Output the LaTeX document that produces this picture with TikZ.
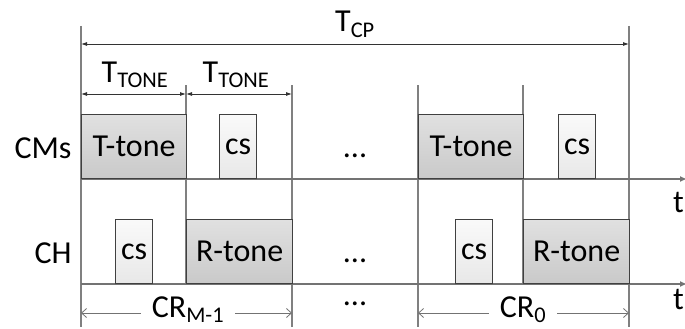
\documentclass[tikz,border=0pt]{standalone}
\usepackage{fontspec}
\setmainfont{Carlito}
\usetikzlibrary{arrows.meta, positioning}

\begin{document}
\begin{tikzpicture}[x=1pt, y=-1pt,
        every node/.style={font=\fontsize{32}{36}\selectfont, inner sep=0pt},
        tone/.style={rectangle, draw=black!75, line width=1.2pt,
                     top color=black!12, bottom color=black!21,
                     minimum width=105pt, minimum height=64pt, anchor=south west},
        csbox/.style={tone, top color=black!2, bottom color=black!9, minimum width=37pt},
        vline/.style={draw=black!50, line width=1.5pt},
        axis/.style={-{Latex[length=7pt,width=6pt]}, draw=black!55, line width=1.5pt},
        dim/.style={{Latex[length=6pt,width=4pt]}-{Latex[length=6pt,width=4pt]},
                    draw=black!80, line width=0.8pt},
        crdim/.style={-{Straight Barb[length=5pt,width=9pt]}, draw=black!55, line width=0.8pt},
        crlabel/.style={anchor=base, inner xsep=11pt}]
      \useasboundingbox (0,0) rectangle (685,329);
      % slot borders
      \draw[vline] (81,26) -- (81,327);
      \draw[vline] (629,26) -- (629,327);
      \draw[vline] (186,85) -- (186,284);
      \draw[vline] (292,85) -- (292,327);
      \draw[vline] (418,85) -- (418,327);
      \draw[vline] (523,85) -- (523,284);
      % time axes
      \coordinate (cms0) at (81,179);
      \coordinate (cms1) at (687,179);
      \coordinate (ch0) at (81,284);
      \coordinate (ch1) at (687,284);
      \draw[axis] (cms0) -- (cms1);
      \draw[axis] (ch0) -- (ch1);
      \node[anchor=base west] (tcms) at (673,212) {t};
      \node[anchor=base west] (tch) at (673,309) {t};
      % row labels
      \node[anchor=base] (cms) at (43,158) {CMs};
      \node[anchor=base] (ch) at (53,263) {CH};
      % tones and control slots
      \node[tone] (tt1) at (81,179) {T-tone};
      \node[csbox] (cs1) at (219,179) {cs};
      \node[tone] (tt2) at (418,179) {T-tone};
      \node[csbox] (cs2) at (558,179) {cs};
      \node[csbox] (cs3) at (115,284) {cs};
      \node[tone, minimum width=106pt] (rt1) at (186,284) {R-tone};
      \node[csbox] (cs4) at (455,284) {cs};
      \node[tone, minimum width=106pt] (rt2) at (523,284) {R-tone};
      \node[anchor=base] (dots1) at (355,157) {...};
      \node[anchor=base] (dots2) at (355,262) {...};
      \node[anchor=base] (dots3) at (355,305) {...};
      % durations
      \coordinate (cpL) at (81,44);
      \coordinate (cpR) at (629,44);
      \draw[dim] (cpL) -- (cpR);
      \node[anchor=base] (tcp) at (355,32) {T\textsubscript{CP}};
      \coordinate (tn0) at (81,94);
      \coordinate (tn1) at (186,94);
      \coordinate (tn2) at (292,94);
      \draw[dim] (tn0) -- (tn1);
      \draw[dim] (tn1) -- (tn2);
      \node[anchor=base] (ttone1) at (135,82) {T\textsubscript{TONE}};
      \node[anchor=base] (ttone2) at (236,82) {T\textsubscript{TONE}};
      % rounds
      \coordinate (crmL) at (81,313);
      \coordinate (crmR) at (292,313);
      \coordinate (cr0L) at (418,313);
      \coordinate (cr0R) at (629,313);
      \node[crlabel] (crm) at (188,317) {CR\textsubscript{M-1}};
      \node[crlabel] (cr0) at (523,317) {CR\textsubscript{0}};
      \draw[crdim] (crm.west |- crmL) -- (crmL);
      \draw[crdim] (crm.east |- crmR) -- (crmR);
      \draw[crdim] (cr0.west |- cr0L) -- (cr0L);
      \draw[crdim] (cr0.east |- cr0R) -- (cr0R);
    \end{tikzpicture}
\end{document}
